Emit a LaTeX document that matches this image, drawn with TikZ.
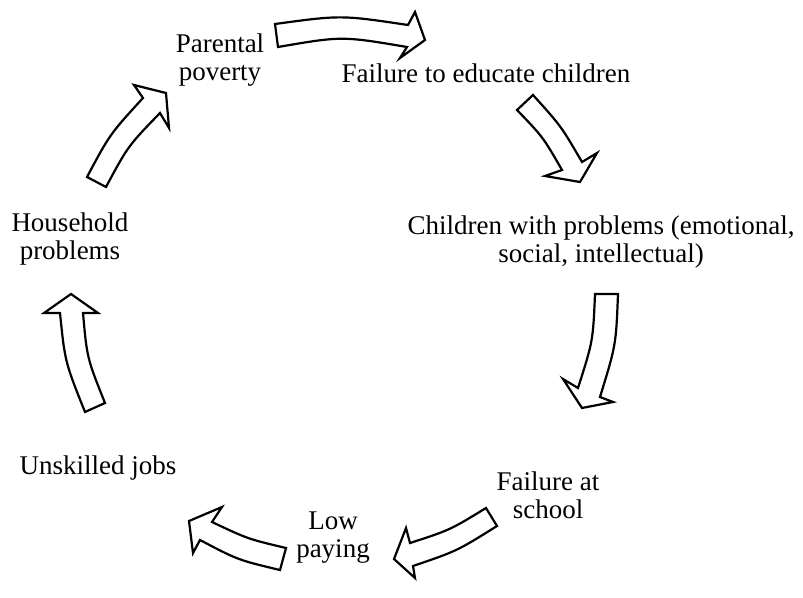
\documentclass[tikz,border=0pt]{standalone}
\usepackage{fontspec}
\setmainfont{Liberation Serif}
\newcommand{\cycfont}{\fontsize{27}{28}\selectfont}

\begin{document}
\begin{tikzpicture}[x=1pt,y=-1pt]
	\useasboundingbox (0,0) rectangle (803,597);
	\begin{scope}[align=center,font=\cycfont]
		\node (pov) at (220,60) {Parental\\poverty};
		\node (edu) at (486,73) {Failure to educate children};
		\node (chi) at (601,242) {Children with problems (emotional,\\social, intellectual)};
		\node (fail) at (548,495) {Failure at\\school};
		\node (low) at (333,538) {Low\\paying};
		\node (job) at (98,468) {Unskilled jobs};
		\node (hou) at (70,239) {Household\\problems};
	\end{scope}
	\begin{scope}[line width=2.2pt,fill=white]
		% poverty -> education
		\draw (275,24) .. controls (341,15) .. (408,25) -- (415,12) -- (425,40)
			-- (400,58) -- (407,47) .. controls (342,36) .. (278,47) -- cycle;
		% education -> children
		\draw (533,95) .. controls (561,126) .. (582,162) -- (597,153) -- (580,182)
			-- (545,176) -- (562,170) .. controls (543,137) .. (517,110) -- cycle;
		% children -> school
		\draw (618,294) .. controls (616,345) .. (600,397) -- (613,402) -- (582,408)
			-- (563,379) -- (578,388) .. controls (593,341) .. (595,294) -- cycle;
		% school -> low paying
		\draw (497,526) .. controls (457,551) .. (413,566) -- (415,578) -- (394,559)
			-- (406,528) -- (410,543) .. controls (450,530) .. (486,508) -- cycle;
		% low paying -> jobs
		\draw (280,570) .. controls (238,560) .. (200,540) -- (193,553) -- (189,521)
			-- (222,507) -- (212,522) .. controls (248,539) .. (286,548) -- cycle;
		% jobs -> household
		\draw (85,412) .. controls (65,362) .. (60,313) -- (44,313) -- (71,294)
			-- (98,313) -- (83,313) .. controls (87,358) .. (105,403) -- cycle;
		% household -> poverty
		\draw (87,177) .. controls (110,134) .. (143,98) -- (134,85) -- (166,93)
			-- (169,128) -- (160,113) .. controls (128,146) .. (106,187) -- cycle;
	\end{scope}
\end{tikzpicture}
\end{document}
